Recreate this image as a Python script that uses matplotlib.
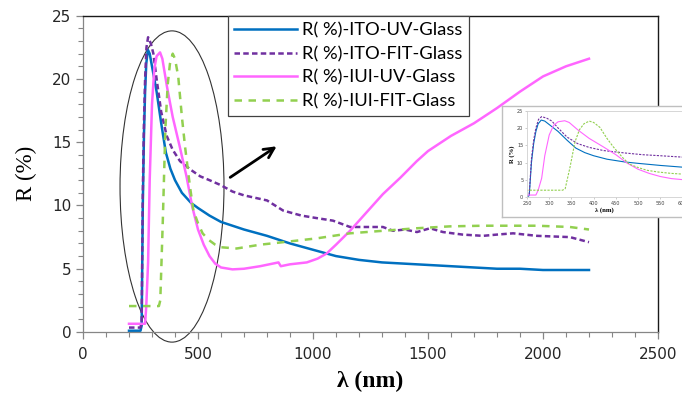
import numpy as np
import matplotlib
matplotlib.use("Agg")
import matplotlib.pyplot as plt
from matplotlib.patches import Ellipse
from matplotlib.ticker import MultipleLocator

# Reflectance spectra, wavelength in nm, R in %
wl_ito_uv = [200, 250, 255, 260, 265, 270, 275, 282, 290, 300, 320, 340, 360, 380, 400,
             430, 470, 500, 550, 600, 700, 800, 900, 1000, 1100, 1200, 1300, 1400, 1500,
             1600, 1700, 1800, 1900, 2000, 2100, 2200]
r_ito_uv = [0.1, 0.1, 0.5, 10.0, 15.5, 19.0, 21.2, 22.3, 22.0, 21.0, 19.0, 16.5, 14.2, 12.9, 12.0,
            11.0, 10.2, 9.8, 9.2, 8.7, 8.1, 7.6, 7.0, 6.5, 6.0, 5.7, 5.5, 5.4, 5.3,
            5.2, 5.1, 5.0, 5.0, 4.9, 4.9, 4.9]

wl_ito_fit = [200, 250, 255, 260, 265, 270, 276, 283, 295, 306, 320, 340, 364, 390, 422,
              470, 510, 550, 600, 650, 700, 750, 800, 870, 950, 1017, 1087, 1161, 1250,
              1304, 1348, 1400, 1452, 1509, 1565, 1650, 1739, 1800, 1870, 1974, 2117, 2200]
r_ito_fit = [0.35, 0.35, 0.8, 11.0, 16.5, 20.0, 22.5, 23.3, 22.8, 22.0, 20.0, 17.4, 15.5, 14.4, 13.5,
             12.8, 12.3, 12.0, 11.6, 11.1, 10.8, 10.6, 10.4, 9.6, 9.2, 9.0, 8.8, 8.3, 8.3,
             8.3, 8.0, 8.1, 7.9, 8.2, 7.9, 7.7, 7.6, 7.7, 7.8, 7.6, 7.5, 7.1]

wl_iui_uv = [200, 270, 275, 283, 290, 300, 310, 320, 335, 345, 365, 390, 420, 450, 475,
             500, 525, 550, 575, 600, 650, 700, 770, 850, 860, 900, 973, 1020, 1059, 1100,
             1161, 1230, 1304, 1380, 1451, 1500, 1600, 1700, 1800, 1900, 2000, 2100, 2200]
r_iui_uv = [0.65, 0.65, 2.0, 5.5, 12.0, 18.0, 20.8, 21.8, 22.1, 21.6, 19.4, 17.0, 14.7, 12.3, 9.9,
            8.1, 6.9, 6.0, 5.4, 5.1, 4.95, 5.0, 5.2, 5.5, 5.2, 5.35, 5.5, 5.8, 6.2, 6.9,
            8.0, 9.4, 10.9, 12.2, 13.5, 14.3, 15.5, 16.5, 17.7, 19.0, 20.2, 21.0, 21.6]

wl_iui_fit = [200, 330, 336, 347, 358, 368, 378, 390, 400, 414, 430, 444, 465, 480, 500,
              520, 545, 575, 600, 668, 770, 870, 1016, 1161, 1304, 1451, 1596, 1739, 1973,
              2117, 2200]
r_iui_fit = [2.05, 2.05, 2.5, 8.8, 16.0, 19.5, 21.2, 22.0, 21.6, 20.2, 17.0, 14.6, 11.5, 9.6, 8.6,
             7.8, 7.3, 6.9, 6.7, 6.6, 6.9, 7.1, 7.4, 7.8, 8.0, 8.2, 8.35, 8.4, 8.4,
             8.3, 8.1]

labels = ["R( %)-ITO-UV-Glass", "R( %)-ITO-FIT-Glass", "R( %)-IUI-UV-Glass", "R( %)-IUI-FIT-Glass"]
colors = ["#0070C0", "#7030A0", "#FF66FF", "#92D050"]
series = [(wl_ito_uv, r_ito_uv), (wl_ito_fit, r_ito_fit), (wl_iui_uv, r_iui_uv), (wl_iui_fit, r_iui_fit)]
dashes = [None, (2.2, 1.3), None, (3.0, 2.6)]

x_ticks = [0, 500, 1000, 1500, 2000, 2500]
y_ticks = [0, 5, 10, 15, 20, 25]
inset_x_ticks = [250, 300, 350, 400, 450, 500, 550, 600]

plt.rcParams["font.family"] = ["DejaVu Sans"]

fig = plt.figure(figsize=(6.82, 3.96), dpi=100)
ax = fig.add_axes([83 / 682, 1 - 332 / 396, 575 / 682, (332 - 15.7) / 396])

for (x, y), lab, c, d in zip(series, labels, colors, dashes):
    ln, = ax.plot(x, y, color=c, lw=1.8, label=lab, solid_joinstyle="round")
    if d is not None:
        ln.set_dashes(d)

ax.set_xlim(0, 2500)
ax.set_ylim(0, 25)
ax.set_xticks(x_ticks)
ax.set_yticks(y_ticks)
ax.xaxis.set_minor_locator(MultipleLocator(100))
ax.yaxis.set_minor_locator(MultipleLocator(1))
ax.tick_params(which="both", direction="out", colors="#868686", labelcolor="#262626", labelsize=11)
ax.tick_params(which="major", length=5, width=0.9)
ax.tick_params(which="minor", length=3.5, width=0.8)
ax.tick_params(axis="x", pad=6)
for s in ("left", "bottom"):
    ax.spines[s].set_color("#868686")
    ax.spines[s].set_linewidth(0.9)
for s in ("top", "right"):
    ax.spines[s].set_color("#1a1a1a")
    ax.spines[s].set_linewidth(1.0)

ax.set_ylabel("R (%)", family="Liberation Serif", fontsize=16.5, labelpad=11)
ax.set_xlabel("λ (nm)", family="Liberation Serif", fontsize=17, fontweight="bold", labelpad=6)

leg = ax.legend(loc="upper left", bbox_to_anchor=((228 - 83) / 575, 1.0), borderaxespad=0,
                frameon=True, fancybox=False, edgecolor="#404040", framealpha=1,
                prop={"family": "Lato", "size": 13.2}, handlelength=3.4, handletextpad=0.3,
                labelspacing=0.42, borderpad=0.35)
leg.get_frame().set_linewidth(0.9)

# highlighted peak region
ax.add_patch(Ellipse((387, 11.5), 452, 24.6, fill=False, edgecolor="#333333", lw=0.8, clip_on=False))
ax.annotate("", xy=(852, 14.8), xytext=(630, 12.1),
            arrowprops=dict(arrowstyle="->", color="black", lw=2.0, mutation_scale=18))

# zoomed view of the peak region
frame = fig.add_axes([502 / 682, 1 - 217.3 / 396, 230 / 682, (217.3 - 105.7) / 396])
frame.set_xticks([])
frame.set_yticks([])
for s in frame.spines.values():
    s.set_color("#BFBFBF")
    s.set_linewidth(1.0)

ins = fig.add_axes([527 / 682, 1 - 197.3 / 396, 155.5 / 682, (197.3 - 110.7) / 396])
for (x, y), c, d in zip(series, colors, dashes):
    ln, = ins.plot(x, y, color=c, lw=0.8)
    if d is not None:
        ln.set_dashes((2.0, 1.2))
ins.set_xlim(250, 600)
ins.set_ylim(0, 25)
ins.set_xticks(inset_x_ticks)
ins.set_yticks(y_ticks)
ins.tick_params(labelsize=3.6, length=1.2, width=0.4, colors="#A6A6A6", labelcolor="#404040", pad=1.5)
for s in ins.spines.values():
    s.set_color("#D0D0D0")
    s.set_linewidth(0.6)
ins.set_xlabel("λ (nm)", family="Liberation Serif", fontsize=4.8, fontweight="bold", labelpad=1)
ins.set_ylabel("R (%)", family="Liberation Serif", fontsize=4.8, fontweight="bold", labelpad=1)

fig.savefig("out.png", dpi=100)
